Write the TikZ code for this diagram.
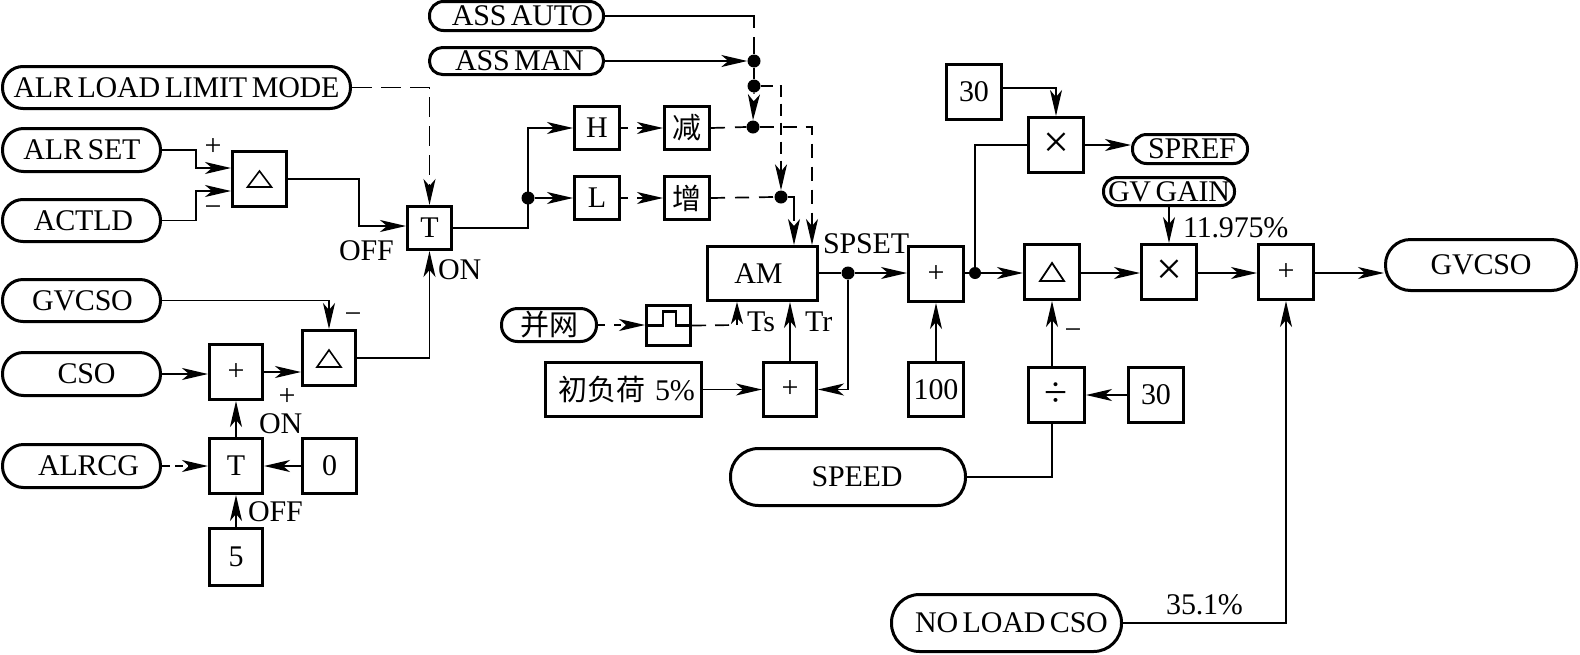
\documentclass[tikz,border=0pt]{standalone}
\usepackage{fontspec}
\setmainfont{Liberation Serif}[WordSpace=0.62,LetterSpace=-0.7]
\newfontfamily\cjk{Noto Sans CJK SC}
\usetikzlibrary{arrows.meta,calc}
\tikzset{
  boxn/.style={draw=black,line width=3pt,inner sep=0pt,fill=white,font=\fontsize{30}{30}\selectfont},
  pilln/.style={boxn},
  lbl/.style={inner sep=0pt,font=\fontsize{30}{30}\selectfont},
  dotn/.style={circle,fill=black,inner sep=0pt,minimum size=13pt},
  conn/.style={line width=1.7pt,line join=miter},
  arr/.style={conn,-{Stealth[length=26pt,width=12pt,inset=7pt]}},
  dsh/.style={dash pattern=on 20pt off 9pt},
  dshort/.style={dash pattern=on 7pt off 9pt}
}
\newcommand\mybox[6]{%
  \pgfmathsetmacro\cxx{(#2+#4)/2}\pgfmathsetmacro\cyy{(#3+#5)/2}%
  \pgfmathsetmacro\www{#4-#2-3}\pgfmathsetmacro\hhh{#5-#3-3}%
  \node[boxn,minimum width=\www pt,minimum height=\hhh pt] (#1) at (\cxx,\cyy) {#6};}
\newcommand\mypill[6]{%
  \pgfmathsetmacro\cxx{(#2+#4)/2}\pgfmathsetmacro\cyy{(#3+#5)/2}%
  \pgfmathsetmacro\www{#4-#2-3}\pgfmathsetmacro\hhh{#5-#3-3}\pgfmathsetmacro\rrr{\hhh/2-0.5}%
  \node[pilln,rounded corners=\rrr pt,minimum width=\www pt,minimum height=\hhh pt] (#1) at (\cxx,\cyy) {#6};}
\begin{document}
\begin{tikzpicture}[x=1pt,y=-1pt]
\useasboundingbox[fill=white] (0,0) rectangle (1580,654);
% pills
\mypill{mode}{1}{65}{352}{110}{ALR LOAD LIMIT MODE}
\mypill{alrset}{1}{127}{162}{173}{\kern1pt ALR SET}
\mypill{actld}{1}{198}{162}{243}{\kern4pt ACTLD}
\mypill{gvin}{1}{278}{162}{323}{\kern2pt GVCSO}
\mypill{cso}{1}{351}{162}{397}{\kern10pt CSO}
\mypill{alrcg}{1}{443}{162}{489}{\kern14pt ALRCG}
\mypill{auto}{428}{0}{605}{32}{\kern12pt ASS AUTO}
\mypill{man}{428}{46}{605}{76}{\kern6pt ASS MAN}
\mypill{bw}{500}{307}{598}{343}{{\cjk\fontsize{29}{29}\selectfont 并网}}
\mypill{speed}{729}{447}{967}{507}{\kern18pt SPEED}
\mypill{noload}{890}{593}{1123}{653}{\kern10pt NO LOAD CSO}
\mypill{spref}{1131}{133}{1249}{165}{\kern4pt SPREF}
\mypill{gain}{1102}{176}{1236}{207}{GV GAIN}
\mypill{gvout}{1384}{238}{1578}{292}{GVCSO}
% boxes
\mybox{d1}{231}{150}{288}{208}{}
\mybox{t1}{406}{205}{453}{251}{T}
\mybox{p1}{208}{343}{264}{401}{+}
\mybox{d2}{301}{329}{357}{387}{}
\mybox{t2}{208}{437}{264}{495}{T}
\mybox{zero}{301}{437}{358}{495}{0}
\mybox{five}{208}{527}{264}{587}{5}
\mybox{h}{573}{105}{621}{151}{H}
\mybox{jian}{663}{105}{711}{151}{{\cjk\fontsize{29}{29}\selectfont 减}}
\mybox{l}{573}{175}{621}{221}{L}
\mybox{zeng}{663}{175}{711}{221}{{\cjk\fontsize{29}{29}\selectfont 增}}
\mybox{am}{706}{245}{819}{302}{\kern-8pt AM}
\mybox{pulse}{645}{304}{692}{347}{}
\mybox{init}{544}{361}{703}{418}{\kern6pt{\cjk\fontsize{29}{29}\selectfont 初负荷}\kern10pt 5\%}
\mybox{p2}{762}{361}{818}{418}{+}
\mybox{p3}{907}{245}{965}{303}{+}
\mybox{hund}{907}{361}{965}{418}{100}
\mybox{nthirty}{945}{63}{1003}{121}{30}
\mybox{m1}{1027}{116}{1085}{174}{\fontsize{46}{46}\selectfont ×}
\mybox{d3}{1023}{243}{1081}{301}{}
\mybox{m2}{1140}{243}{1198}{301}{\fontsize{46}{46}\selectfont ×}
\mybox{p4}{1257}{243}{1315}{301}{+}
\mybox{div}{1027}{366}{1086}{424}{\fontsize{42}{42}\selectfont ÷}
\mybox{sthirty}{1127}{366}{1185}{424}{30}
% triangles and pulse
\draw[line width=1.6pt,line join=miter] ($(d1)+(-12,8)$) -- ($(d1)+(0,-8)$) -- ($(d1)+(12,8)$) -- cycle;
\draw[line width=1.6pt,line join=miter] ($(d2)+(-12,9)$) -- ($(d2)+(0,-8)$) -- ($(d2)+(12,9)$) -- cycle;
\draw[line width=1.8pt,line join=miter] ($(d3)+(-12,9)$) -- ($(d3)+(0,-9)$) -- ($(d3)+(12,9)$) -- cycle;
\draw[line width=2.4pt,line join=miter] (pulse.west) -- ++(18,0) -- ++(0,-14) -- ++(13,0) -- ++(0,14) -- (pulse.east);
% junction dots
\node[dotn] (j1) at (528,198) {};
\node[dotn] (j2) at (754,61) {};
\node[dotn] (j3) at (754,86) {};
\node[dotn] (j4) at (753,127) {};
\node[dotn] (j5) at (781,197) {};
\node[dotn] (j6) at (848,273) {};
\node[dotn,minimum size=12pt] (j7) at (975,273) {};
% bend coordinates
\coordinate (c2) at (196,168);
\coordinate (c3) at (196,191);
\coordinate (c4) at (359,226);
\coordinate (c6) at (754,28);
\coordinate (c7) at (754,37);
\coordinate (c10) at (812,127);
\coordinate (c11) at (794,197);
\coordinate (c12) at (1003,88);
\coordinate (c13) at (737,325);
% connectors: left part
\draw[arr,dsh] (mode.east) -| (t1.north);
\draw[arr] (alrset.east) -| (c2) -- (d1.west |- c2);
\draw[arr] (actld.east) -| (c3) -- (d1.west |- c3);
\draw[arr] (d1.east) -| (c4) -- (t1.west |- c4);
\draw[arr] (d2.east) -| (t1.south);
\draw[arr] (gvin.east) -| (d2.north);
\draw[arr] (cso.east) -- (p1.west |- cso.east);
\draw[arr] (p1.east) -- (d2.west |- p1.east);
\draw[arr] (t2.north) -- (p1.south);
\draw[arr,dash pattern=on 8pt off 5pt] (alrcg.east) -- (t2.west |- alrcg.east);
\draw[arr] (zero.west) -- (t2.east);
\draw[arr] (five.north) -- (t2.south);
% connectors: middle part
\draw[conn] (t1.east) -| (j1.center);
\draw[arr] (j1.center) |- (h.west);
\draw[arr] (j1.east) -- (l.west);
\draw[arr,dshort] (h.east) -- (jian.west);
\draw[arr,dshort] (l.east) -- (zeng.west);
\draw[conn] (auto.east) -| (c6);
\draw[conn] (c7) -- (j2.north);
\draw[arr] (man.east) -- (j2.west);
\draw[conn] (j2.south) -- (j3.north);
\draw[arr,dash pattern=on 1pt off 9pt] (j3.south) -- (j4.north);
\draw[arr,dash pattern=on 12pt off 7pt] (j3.east) -| (j5.north);
\draw[conn,dash pattern=on 14pt off 10pt] (jian.east) -- (j4.west);
\draw[conn,dash pattern=on 14pt off 10pt] (zeng.east) -- (j5.west);
\draw[arr,dash pattern=on 14pt off 9pt] (j4.east) -| (am.north -| c10);
\draw[arr,dash pattern=on 30pt off 6pt] (j5.east) -| (am.north -| c11);
\draw[conn] (am.east |- j6) -- (j6.west);
\draw[arr] (j6.east) -- (p3.west |- j6);
\draw[arr] (j6.south) |- (p2.east);
\draw[arr] (init.east) -- (p2.west);
\draw[arr] (p2.north) -- (am.south -| p2.north);
\draw[arr,dshort] (bw.east) -- (pulse.west |- bw.east);
\draw[conn,dash pattern=on 14pt off 9pt] (pulse.east) -- (c13);
\draw[conn,-{Stealth[length=22pt,width=12pt,inset=6pt]}] (c13) -- (am.south -| c13);
\draw[arr] (hund.north) -- (p3.south);
% connectors: right part
\draw[conn] (p3.east |- j7) -- (j7.west);
\draw[arr] (j7.east) -- (d3.west |- j7);
\draw[arr] (d3.east |- j7) -- (m2.west |- j7);
\draw[arr] (m2.east |- j7) -- (p4.west |- j7);
\draw[arr] (p4.east |- j7) -- (gvout.west |- j7);
\draw[conn] (j7.north) |- (m1.west);
\draw[arr] (m1.east) -- (spref.west |- m1.east);
\draw[arr] (nthirty.east |- c12) -| (m1.north);
\draw[arr] (gain.south) -- (m2.north);
\draw[arr] (d3.south |- div.north) -- (d3.south);
\draw[conn] (speed.east) -| (d3.south |- div.south);
\draw[arr] (sthirty.west) -- (div.east);
\draw[arr] (noload.east) -| (p4.south);
% labels
\node[lbl] (lp1) at (213,147) {+};
\node[lbl] (lm1) at (213,211) {−};
\node[lbl] (lm2) at (353,318) {−};
\node[lbl] (lp2) at (287,397) {+};
\node[lbl] (lm3) at (1073,334) {−};
\node[lbl,anchor=base west] (off1) at (339,260) {OFF};
\node[lbl,anchor=base west] (on1) at (438,279) {ON};
\node[lbl,anchor=base west] (on2) at (259,433) {ON};
\node[lbl,anchor=base west] (off2) at (248,521) {OFF};
\node[lbl,anchor=base west] (ts) at (747,331) {Ts};
\node[lbl,anchor=base west] (tr) at (805,331) {Tr};
\node[lbl,anchor=base west] (sp) at (823,253) {SPSET};
\node[lbl,anchor=base west] (pc1) at (1183,237) {11.975\%};
\node[lbl,anchor=base west] (pc2) at (1166,614) {35.1\%};
\end{tikzpicture}
\end{document}
